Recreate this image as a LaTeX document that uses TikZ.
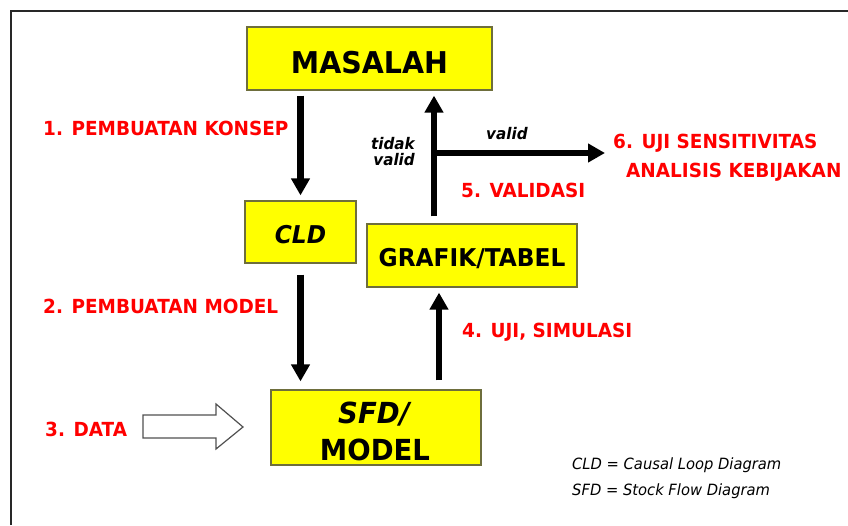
\documentclass[tikz,border=0pt]{standalone}
\usepackage{fontspec}
\setmainfont{DejaVu Sans}[FakeStretch=0.95]
\usetikzlibrary{arrows.meta,calc}
\definecolor{boxyellow}{RGB}{255,255,0}
\definecolor{boxedge}{RGB}{110,110,60}
\definecolor{labelred}{RGB}{255,0,0}
\definecolor{framegray}{RGB}{40,40,40}
\definecolor{dataedge}{RGB}{80,80,80}
\begin{document}
\begin{tikzpicture}[x=1pt,y=-1pt,
  box/.style={draw=boxedge, line width=1.2pt, fill=boxyellow, inner sep=0pt, text depth=0pt},
  arr/.style={line width=6.5pt, -{Triangle[width=18pt,length=17pt]}},
  redlabel/.style={text=labelred, font=\fontsize{19.4}{22}\selectfont\bfseries, anchor=base west, inner sep=0pt},
  decision/.style={font=\fontsize{16}{19}\selectfont\bfseries\itshape, inner sep=0pt},
  legendtext/.style={font=\fontsize{15.5}{18}\selectfont\itshape, anchor=base west, inner sep=0pt}]

% canvas and frame
\path[fill=white, use as bounding box] (0,0) rectangle (848,525);
\draw[framegray, line width=2pt] (11,525) -- (11,10.5) -- (848,10.5);

% process boxes
\node[box, minimum width=245pt, minimum height=63pt, text height=29pt,
      font=\fontsize{30}{36}\selectfont\bfseries] (masalah) at (369.5,58.5) {MASALAH};
\node[box, minimum width=111pt, minimum height=62pt, text height=22pt,
      font=\fontsize{24.5}{29}\selectfont\bfseries\itshape] (cld) at (300.5,232) {CLD};
\node[box, minimum width=210pt, minimum height=63pt, text height=21pt,
      font=\fontsize{24.5}{29}\selectfont\bfseries] (grafik) at (472,255.5) {GRAFIK/TABEL};
\node[box, minimum width=210pt, minimum height=75pt] (sfd) at (376,427.5) {};
\node[anchor=base, inner sep=0pt, font=\fontsize{29}{35}\selectfont\bfseries\itshape] (sfdtop) at (374,423) {SFD/};
\node[anchor=base, inner sep=0pt, font=\fontsize{29}{35}\selectfont\bfseries] (sfdbottom) at (375,460) {MODEL};

% step labels
\node[redlabel] (step1) at (43,135) {1. PEMBUATAN KONSEP};
\node[redlabel] (step2) at (43,313) {2. PEMBUATAN MODEL};
\node[redlabel] (step3) at (45,436) {3. DATA};
\node[redlabel] (step4) at (462,337) {4. UJI, SIMULASI};
\node[redlabel] (step5) at (461,197) {5. VALIDASI};
\node[redlabel] (step6a) at (613,148) {6. UJI SENSITIVITAS};
\node[redlabel] (step6b) at (626,177) {ANALISIS KEBIJAKAN};

% decision labels
\node[decision, anchor=base east] (notvalid1) at (415,149) {tidak};
\node[decision, anchor=base east] (notvalid2) at (415,165) {valid};
\node[decision, anchor=base west] (validlbl) at (486,139) {valid};

% legend
\node[legendtext] (legend1) at (572,469) {CLD = Causal Loop Diagram};
\node[legendtext] (legend2) at (572,495) {SFD = Stock Flow Diagram};

% flow arrows
\coordinate (fork) at (434,153);
\coordinate (simx) at ($(sfd.north)+(63,0)$);
\draw[arr, shorten <=5pt, shorten >=5pt] (cld.north |- masalah.south) -- (cld.north);
\draw[arr, shorten <=11pt, shorten >=8pt] (cld.south) -- (cld.south |- sfd.north);
\draw[arr, shorten <=9pt, shorten >=5pt] (simx) -- (simx |- grafik.south);
\draw[arr, shorten <=7pt, shorten >=5pt] (fork |- grafik.north) -- (fork |- masalah.south);
\draw[arr, shorten >=8pt] (fork) -- (fork -| step6a.west);

% data input block arrow
\draw[dataedge, line width=1.2pt, fill=white, line join=miter]
  (143,415) -- (216,415) -- (216,404) -- (243,427) -- (216,449) -- (216,438) -- (143,438) -- cycle;
\end{tikzpicture}
\end{document}
